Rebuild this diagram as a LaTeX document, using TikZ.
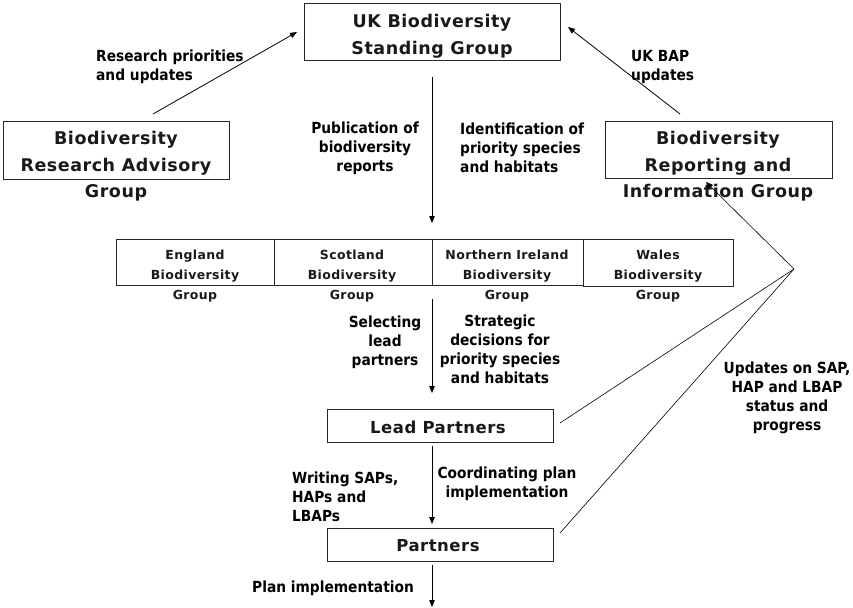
\documentclass[tikz,border=0pt]{standalone}
\usepackage{fontspec}
\usetikzlibrary{arrows.meta}
\newfontfamily\labfont[FakeStretch=0.9]{DejaVu Sans}
\newfontfamily\boxfont[LetterSpace=3]{DejaVu Sans}
\begin{document}
\begin{tikzpicture}[x=1pt,y=-1pt,
  frame/.style={draw=black!85, line width=0.8pt, inner sep=0pt, fill=none},
  bigtxt/.style={font=\boxfont\bfseries\fontsize{17.5}{26.5}\selectfont, inner sep=0pt, align=center, text=black!90},
  midtxt/.style={font=\boxfont\bfseries\fontsize{16.5}{26.5}\selectfont, inner sep=0pt, align=center, text=black!90},
  smalltxt/.style={font=\boxfont\bfseries\fontsize{12.5}{20}\selectfont, inner sep=0pt, align=center, text=black!90},
  lab/.style={font=\labfont\bfseries\fontsize{15.3}{19}\selectfont, inner sep=0pt, text=black},
  arr/.style={-{Triangle[length=7pt,width=5.5pt]}, line width=0.8pt, black},
  thin/.style={line width=0.6pt, black}
]
\useasboundingbox (0,0) rectangle (853,607);

% main boxes
\node[frame, minimum width=256pt, minimum height=57pt] (uk) at (432,31.5) {};
\node[bigtxt] (ukt) at (432,36) {UK Biodiversity\\Standing Group};

\node[frame, minimum width=226pt, minimum height=58pt] (brag) at (116,150) {};
\node[bigtxt] (bragt) at (116,166.5) {Biodiversity\\Research Advisory\\Group};

\node[frame, minimum width=227pt, minimum height=57pt] (brig) at (718.5,149.5) {};
\node[bigtxt] (brigt) at (718,166.5) {Biodiversity\\Reporting and\\Information Group};

% country row
\node[frame, minimum width=158pt, minimum height=46pt] (eng) at (195,262) {};
\node[smalltxt] (engt) at (195,276) {England\\Biodiversity\\Group};
\node[frame, minimum width=158pt, minimum height=46pt] (sco) at (353,262) {};
\node[smalltxt] (scot) at (352,276) {Scotland\\Biodiversity\\Group};
\node[frame, minimum width=151pt, minimum height=46pt] (ni) at (507.5,262) {};
\node[smalltxt] (nit) at (507,276) {Northern Ireland\\Biodiversity\\Group};
\node[frame, minimum width=150pt, minimum height=47pt] (wal) at (658,262.5) {};
\node[smalltxt] (walt) at (658,276) {Wales\\Biodiversity\\Group};

% lead partners and partners
\node[frame, minimum width=226pt, minimum height=33pt] (lead) at (440,425.5) {};
\node[midtxt] (leadt) at (438,427) {Lead Partners};
\node[frame, minimum width=226pt, minimum height=33pt] (part) at (440,544.5) {};
\node[midtxt] (partt) at (438,546) {Partners};

% connector end points
\coordinate (a1s) at (153,114);  \coordinate (a1e) at (297,32);
\coordinate (a2s) at (680,114);  \coordinate (a2e) at (568,27);
\coordinate (c1s) at (432,77);   \coordinate (c1e) at (432,223);
\coordinate (c2s) at (432,299);  \coordinate (c2e) at (432,393);
\coordinate (c3s) at (432,446);  \coordinate (c3e) at (432,524);
\coordinate (c4s) at (432,565);  \coordinate (c4e) at (432,607);
\coordinate (hub) at (794,269);
\coordinate (hube) at (706,182);
\coordinate (leadr) at (560,423);
\coordinate (partr) at (560,533);

\draw[arr] (a1s) -- (a1e);
\draw[arr] (a2s) -- (a2e);
\draw[arr] (c1s) -- (c1e);
\draw[arr] (c2s) -- (c2e);
\draw[arr] (c3s) -- (c3e);
\draw[arr] (c4s) -- (c4e);
\draw[thin] (leadr) -- (hub);
\draw[thin] (partr) -- (hub);
\draw[arr, line width=0.6pt] (hub) -- (hube);

% labels
\node[lab, anchor=west, align=left] (l1) at (96,67) {Research priorities\\and updates};
\node[lab, anchor=west, align=left] (l2) at (631,67) {UK BAP\\updates};
\node[lab, align=center] (l3) at (365,148) {Publication of\\biodiversity\\reports};
\node[lab, anchor=west, align=left] (l4) at (460,148) {Identification of\\priority species\\and habitats};
\node[lab, align=center] (l5) at (385,342) {Selecting\\lead\\partners};
\node[lab, align=center] (l6) at (500,349) {Strategic\\decisions for\\priority species\\and habitats};
\node[lab, anchor=west, align=left] (l7) at (292,497) {Writing SAPs,\\HAPs and\\LBAPs};
\node[lab, align=center] (l8) at (507,484) {Coordinating plan\\implementation};
\node[lab, anchor=west] (l9) at (252,588) {Plan implementation};
\node[lab, align=center] (l10) at (787,398) {Updates on SAP,\\HAP and LBAP\\status and\\progress};
\end{tikzpicture}
\end{document}
